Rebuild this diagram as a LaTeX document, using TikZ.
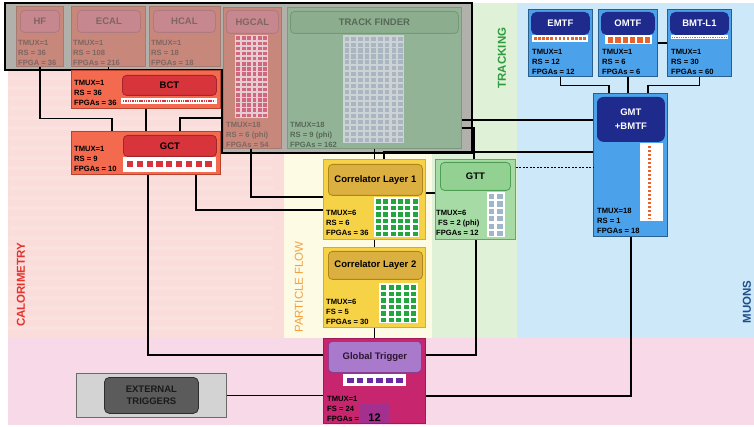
\documentclass[tikz,border=0pt]{standalone}
\usepackage{fontspec}
\setmainfont{Liberation Sans}
\definecolor{calobg}{HTML}{FADCDA}
\definecolor{pfbg}{HTML}{FDFBE4}
\definecolor{trkbg}{HTML}{DFF2D7}
\definecolor{muobg}{HTML}{CDE8F9}
\definecolor{glbbg}{HTML}{F7D9E8}
\definecolor{framegrey}{HTML}{B2B0AB}
\definecolor{fcalo}{HTML}{C8877B}
\definecolor{fcaloD}{HTML}{A57A70}
\definecolor{ftit}{HTML}{C6878F}
\definecolor{ftitD}{HTML}{AE7A80}
\definecolor{ftxt}{HTML}{7E6662}
\definecolor{ftf}{HTML}{93B397}
\definecolor{ftfD}{HTML}{7C9A80}
\definecolor{ftft}{HTML}{8DAE8E}
\definecolor{ftftD}{HTML}{759878}
\definecolor{ftftxt}{HTML}{566857}
\definecolor{hgsq}{HTML}{D2667F}
\definecolor{hgbg}{HTML}{E5CDD2}
\definecolor{tfsq}{HTML}{A9B6C2}
\definecolor{tfbg}{HTML}{CDD2D5}
\definecolor{calo}{HTML}{F36A4F}
\definecolor{caloD}{HTML}{B8432F}
\definecolor{calot}{HTML}{D8343B}
\definecolor{calotD}{HTML}{A3262C}
\definecolor{pf}{HTML}{F6D246}
\definecolor{pfD}{HTML}{DCA929}
\definecolor{pft}{HTML}{DBB040}
\definecolor{pftD}{HTML}{AF841A}
\definecolor{pfsq}{HTML}{22A63E}
\definecolor{trk}{HTML}{A6DBA6}
\definecolor{trkD}{HTML}{5DAD61}
\definecolor{trkt}{HTML}{93D192}
\definecolor{trktD}{HTML}{4E9E53}
\definecolor{trksq}{HTML}{9FB7CB}
\definecolor{muo}{HTML}{4CA2EA}
\definecolor{muoD}{HTML}{2A5E8C}
\definecolor{muot}{HTML}{1F2A8D}
\definecolor{muodot}{HTML}{E8632A}
\definecolor{gtc}{HTML}{C8256F}
\definecolor{gtD}{HTML}{A01A5A}
\definecolor{gttit}{HTML}{A97ACB}
\definecolor{gttD}{HTML}{8B3C8F}
\definecolor{gtsq}{HTML}{6A2BA2}
\definecolor{gtpatch}{HTML}{A3308F}
\definecolor{gttxt}{HTML}{2B1630}
\definecolor{extbg}{HTML}{D3D3D3}
\definecolor{extD}{HTML}{6A6A6A}
\definecolor{extin}{HTML}{5B5B5B}
\definecolor{extinD}{HTML}{2E2E2E}
\definecolor{exttxt}{HTML}{1A1A1A}
\definecolor{lcalo}{HTML}{E5322D}
\definecolor{lpf}{HTML}{F4A040}
\definecolor{ltrk}{HTML}{2E9B3E}
\definecolor{lmuo}{HTML}{1F4E8A}
\newcommand\mkbox[7]{\node[#2, anchor=north west, inner sep=0pt, minimum width={(#5-#3)*1pt}, minimum height={(#6-#4)*1pt}] (#1) at (#3,#4) {#7};}
\newcommand\infotxt[7]{%
  \node[#7, anchor=base west] (#1-a) at (#2,#3+2.9) {#4};
  \node[#7, anchor=base west] (#1-b) at (#2,#3+12.5) {#5};
  \node[#7, anchor=base west] (#1-c) at (#2,#3+22.1) {#6};}
\begin{document}
\begin{tikzpicture}[x=1pt,y=-1pt,
  boxst/.style={line width=0.8pt},
  titlest/.style={rounded corners=4pt, line width=0.8pt, font=\bfseries\fontsize{9.5}{11}\selectfont},
  infost/.style={inner sep=0pt, font=\bfseries\fontsize{7.6}{9}\selectfont},
  lblst/.style={rotate=90, inner sep=0pt, font=\bfseries\fontsize{11.5}{13}\selectfont},
  conn/.style={line width=1.3pt, draw=black}]
\useasboundingbox (0,0) rectangle (754,427);
% backgrounds
\fill[white] (0,0) rectangle (754,427);
\fill[calobg] (8,3) rectangle (284,338);
\foreach \yy in {6,16,...,330} \fill[white, opacity=0.15] (9,\yy) rectangle (273,\yy+4);
\fill[pfbg] (284,3) rectangle (432,338);
\fill[trkbg] (432,3) rectangle (517,338);
\fill[muobg] (517,3) rectangle (754,338);
\fill[glbbg] (8,338) rectangle (754,425);
% side labels
\node[lblst, text=lcalo] (lbl-calo) at (21,285) {CALORIMETRY};
\node[lblst, text=lpf, font=\fontsize{11.5}{13}\selectfont] (lbl-pf) at (299,287) {PARTICLE FLOW};
\node[lblst, text=ltrk] (lbl-trk) at (502,58) {TRACKING};
\node[lblst, text=lmuo] (lbl-muo) at (747,302) {MUONS};
% frame
\fill[framegrey] (5,3) -- (472,3) -- (472,153) -- (222,153) -- (222,70) -- (5,70) -- cycle;
% faded calo boxes
\mkbox{hf}{boxst, draw=fcaloD, fill=fcalo}{16}{6}{63}{66}{}
\mkbox{hf-title}{titlest, draw=ftitD, fill=ftit, text=ftxt}{20}{10}{59}{32}{HF}
\infotxt{hf-i}{18}{43}{TMUX=1}{RS = 36}{FPGA = 36}{infost, text=ftxt}
\mkbox{ecal}{boxst, draw=fcaloD, fill=fcalo}{71}{6}{145}{66}{}
\mkbox{ecal-title}{titlest, draw=ftitD, fill=ftit, text=ftxt}{77}{10}{140}{32}{ECAL}
\infotxt{ecal-i}{73}{43}{TMUX=1}{RS = 108}{FPGAs = 216}{infost, text=ftxt}
\mkbox{hcal}{boxst, draw=fcaloD, fill=fcalo}{149}{6}{220}{66}{}
\mkbox{hcal-title}{titlest, draw=ftitD, fill=ftit, text=ftxt}{153}{10}{215}{32}{HCAL}
\infotxt{hcal-i}{151}{43}{TMUX=1}{RS = 18}{FPGAs = 18}{infost, text=ftxt}
\mkbox{hgcal}{boxst, draw=fcaloD, fill=fcalo}{223}{7}{281}{148}{}
\mkbox{hgcal-title}{titlest, draw=ftitD, fill=ftit, text=ftxt}{226}{10}{278}{33}{HGCAL}
\fill[hgbg] (235,35) rectangle (268,118);
\foreach \i in {0,...,5} \foreach \j in {0,...,15} \fill[hgsq] (236.3+\i*5.4,36.4+\j*5.15) rectangle ++(3.8,3.5);
\infotxt{hgcal-i}{226}{125}{TMUX=18}{RS = 6 (phi)}{FPGAs = 54}{infost, text=ftxt}
\mkbox{tf}{boxst, draw=ftfD, fill=ftf}{287}{7}{461}{148}{}
\mkbox{tf-title}{titlest, draw=ftftD, fill=ftft, text=ftftxt}{290}{11}{458}{33}{TRACK FINDER}
\fill[tfbg] (343,35) rectangle (404,143);
\foreach \i in {0,...,8} \foreach \j in {0,...,17} \fill[tfsq] (344.6+\i*6.7,36.6+\j*5.95) rectangle ++(4.6,4.1);
\infotxt{tf-i}{290}{125}{TMUX=18}{RS = 9 (phi)}{FPGAs = 162}{infost, text=ftftxt}
\draw[line width=2.2pt] (5,3) -- (472,3) -- (472,153) -- (222,153) -- (222,70) -- (5,70) -- cycle;
% BCT
\mkbox{bct}{boxst, draw=caloD, fill=calo}{71}{70}{220}{108}{}
\mkbox{bct-title}{titlest, draw=calotD, fill=calot}{122}{75}{216}{95}{BCT}
\fill[white] (121,98) rectangle (217,104);
\draw[calot, line width=1.3pt, dash pattern=on 1.4pt off 0.9pt] (123,101) -- (215,101);
\infotxt{bct-i}{74}{83}{TMUX=1}{RS = 36}{FPGAs = 36}{infost}
% GCT
\mkbox{gct}{boxst, draw=caloD, fill=calo}{71}{131}{220}{174}{}
\mkbox{gct-title}{titlest, draw=calotD, fill=calot}{123}{135}{216}{156}{GCT}
\fill[white] (123,157) rectangle (216,172);
\foreach \i in {0,...,8} \fill[calot] (127+\i*9.8,161.5) rectangle ++(6.2,5.4);
\infotxt{gct-i}{74}{149}{TMUX=1}{RS = 9}{FPGAs = 10}{infost}
% Correlator layer 1
\mkbox{cl1}{boxst, draw=pfD, fill=pf}{323}{159}{425}{239}{}
\mkbox{cl1-title}{titlest, draw=pftD, fill=pft}{328}{164}{422}{195}{Correlator Layer 1}
\fill[white] (374,197) rectangle (419,237);
\foreach \i in {0,...,5} \foreach \j in {0,...,5} \fill[pfsq] (376+\i*7.3,199.2+\j*6.5) rectangle ++(5,4.6);
\infotxt{cl1-i}{326}{213}{TMUX=6}{RS = 6}{FPGAs = 36}{infost}
% Correlator layer 2
\mkbox{cl2}{boxst, draw=pfD, fill=pf}{323}{247}{425}{327}{}
\mkbox{cl2-title}{titlest, draw=pftD, fill=pft}{328}{251}{422}{279}{Correlator Layer 2}
\fill[white] (379,283) rectangle (418,323);
\foreach \i in {0,...,4} \foreach \j in {0,...,5} \fill[pfsq] (381.3+\i*7.4,285.2+\j*6.5) rectangle ++(5,4.6);
\infotxt{cl2-i}{326}{302}{TMUX=6}{FS = 5}{FPGAs = 30}{infost}
% GTT
\mkbox{gtt}{boxst, draw=trkD, fill=trk}{435}{159}{515}{239}{}
\mkbox{gtt-title}{titlest, draw=trktD, fill=trkt}{440}{162}{510}{190}{GTT}
\fill[white] (487,192) rectangle (505,237);
\foreach \i in {0,...,1} \foreach \j in {0,...,5} \fill[trksq] (488.8+\i*8.4,194+\j*7.4) rectangle ++(5.6,5.2);
\infotxt{gtt-i}{436}{213}{TMUX=6}{\kern2pt FS = 2 (phi)}{FPGAs = 12}{infost}
% Muon track finders
\mkbox{emtf}{boxst, draw=muoD, fill=muo}{528}{9}{592}{76}{}
\mkbox{emtf-title}{titlest, rounded corners=5pt, draw=muot, fill=muot, text=white}{531}{12}{589}{34}{EMTF}
\fill[white] (532,35) rectangle (588,42);
\draw[muodot, line width=3pt, dash pattern=on 2.6pt off 1.5pt] (534,38.5) -- (587,38.5);
\infotxt{emtf-i}{532}{52}{TMUX=1}{RS = 12}{FPGAs = 12}{infost}
\mkbox{omtf}{boxst, draw=muoD, fill=muo}{598}{9}{657}{76}{}
\mkbox{omtf-title}{titlest, rounded corners=5pt, draw=muot, fill=muot, text=white}{601}{12}{654}{34}{OMTF}
\fill[white] (605,35.5) rectangle (652,44.5);
\foreach \i in {0,...,5} \fill[muodot] (607.8+\i*7.4,37.3) rectangle ++(5.4,5.4);
\infotxt{omtf-i}{602}{52}{TMUX=1}{RS = 6}{FPGAs = 6}{infost}
\mkbox{bmt}{boxst, draw=muoD, fill=muo}{667}{9}{731}{76}{}
\mkbox{bmt-title}{titlest, rounded corners=5pt, draw=muot, fill=muot, text=white}{670}{12}{728}{34}{BMT-L1}
\fill[white] (671,35) rectangle (728,39.5);
\draw[muodot, line width=1.2pt, dash pattern=on 1pt off 0.8pt] (672,37.3) -- (727,37.3);
\infotxt{bmt-i}{671}{52}{TMUX=1}{RS = 30}{FPGAs = 60}{infost}
% GMT
\mkbox{gmt}{boxst, draw=muoD, fill=muo}{593}{93}{667}{236}{}
\mkbox{gmt-title}{titlest, rounded corners=6pt, draw=muot, fill=muot, text=white, align=center, font=\bfseries\fontsize{9.5}{14}\selectfont}{597}{97}{664}{141}{GMT\\+BMTF}
\fill[white] (640,143) rectangle (663,221);
\draw[muodot, line width=2.8pt, dash pattern=on 2.5pt off 1.5pt] (649.5,146) -- (649.5,219);
\infotxt{gmt-i}{597}{211}{TMUX=18}{RS = 1}{FPGAs = 18}{infost}
% Global trigger
\mkbox{gt}{boxst, draw=gtD, fill=gtc}{323}{338}{425}{423}{}
\mkbox{gt-title}{titlest, draw=gttD, fill=gttit, text=gttxt}{328}{341}{421}{372}{Global Trigger}
\fill[white] (343,374) rectangle (406,386);
\foreach \i in {0,...,5} \fill[gtsq] (347+\i*9.8,377.5) rectangle ++(6.6,5);
\fill[gtpatch] (360,403) rectangle (389,423);
\infotxt{gt-i}{327}{399}{TMUX=1}{FS = 24}{FPGAs =}{infost}
\node[inner sep=0pt, anchor=base, font=\bfseries\fontsize{11}{13}\selectfont] (gt-n) at (374.5,421) {12};
% external triggers
\mkbox{ext}{boxst, draw=extD, fill=extbg}{76}{373}{226}{417}{}
\mkbox{ext-title}{titlest, rounded corners=5pt, draw=extinD, fill=extin, text=exttxt, align=center, font=\bfseries\fontsize{9.5}{11.5}\selectfont}{104}{377}{198}{413}{EXTERNAL\\TRIGGERS}
% connectors
\draw[conn] (hf.south) -- ++(0,52) -| ([xshift=41pt]gct.north west);
\draw[conn] (ecal.south) -- (ecal.south |- bct.north);
\draw[conn] (bct.south) -- (bct.south |- gct.north);
\draw[conn] ([yshift=-111pt]hgcal.north west) -| ([xshift=109pt]gct.north west);
\draw[conn] ([xshift=125pt]gct.south west) |- ([yshift=-51pt]cl1.north west);
\draw[conn] ([xshift=28pt]hgcal.south west) |- ([yshift=-38pt]cl1.north west);
\draw[conn] ([xshift=77pt]gct.south west) |- ([yshift=-17pt]gt.north west);
\draw[conn] (tf.south) -- (cl1.north);
\draw[conn] ([yshift=-59pt]gmt.north west) -| ([xshift=61pt]cl1.north west);
\draw[conn] ([yshift=-113pt]tf.north east) -- ([yshift=-27pt]gmt.north west);
\draw[conn] ([yshift=-121pt]tf.north east) -| ([xshift=39pt]gtt.north west);
\draw[conn] ([yshift=-34pt]cl1.north east) -- ([yshift=-34pt]gtt.north west);
\draw[conn, line width=1pt, dash pattern=on 2pt off 1.5pt] ([yshift=-9pt]gtt.north east) -- ([yshift=-75pt]gmt.north west);
\draw[conn] (cl1.south) -- (cl2.north);
\draw[conn] (cl2.south) -- (gt.north);
\draw[conn] ([xshift=41pt]gtt.south west) |- ([yshift=-17pt]gt.north east);
\draw[conn] ([xshift=38pt]gmt.south west) |- ([yshift=-58pt]gt.north east);
\draw[conn] (ext.east) -- (ext.east -| gt.west);
\draw[conn] (emtf.south) -- ++(0,9) -| ([xshift=16pt]gmt.north west);
\draw[conn] (omtf.south) -- (omtf.south |- gmt.north);
\draw[conn] (bmt.south) -- ++(0,9) -| ([xshift=55pt]gmt.north west);
\draw[conn] ([yshift=-34pt]omtf.north east) -- ([yshift=-34pt]bmt.north west);
\end{tikzpicture}
\end{document}
